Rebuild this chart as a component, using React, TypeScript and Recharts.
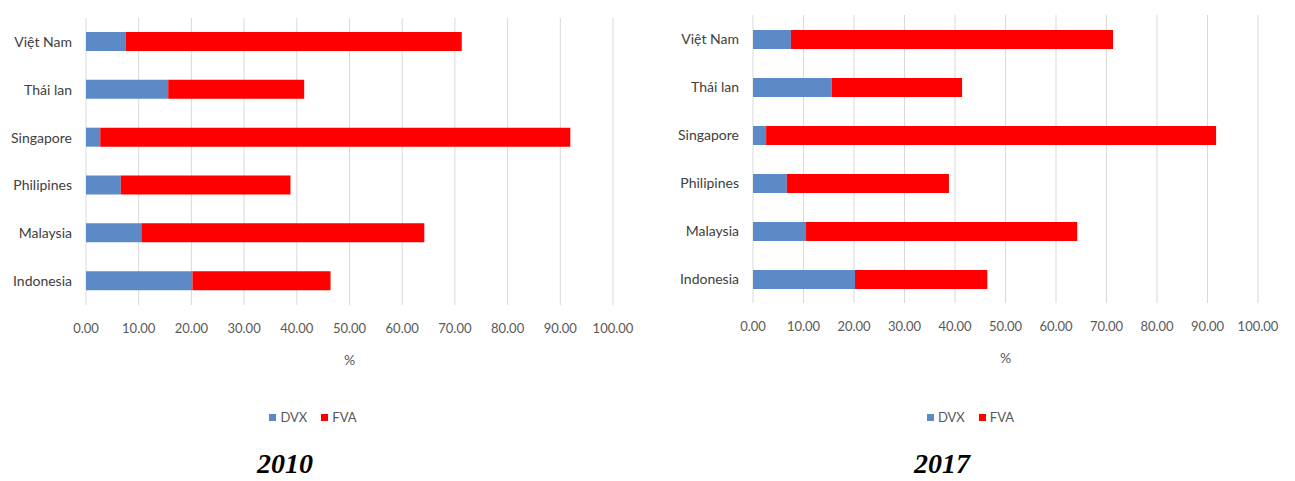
import { Bar, BarChart, CartesianGrid, Legend, XAxis, YAxis } from 'recharts'

const countries = ['Việt Nam', 'Thái lan', 'Singapore', 'Philipines', 'Malaysia', 'Indonesia']

// Domestic value added (DVX) and foreign value added (FVA), % of gross exports
const dvx2010 = [7.5, 15.6, 2.7, 6.6, 10.5, 20.2]
const fva2010 = [63.8, 25.8, 89.2, 32.2, 53.7, 26.2]
const dvx2017 = [7.5, 15.6, 2.6, 6.7, 10.5, 20.2]
const fva2017 = [63.8, 25.8, 89.1, 32.1, 53.7, 26.2]

const xTicks = [0, 10, 20, 30, 40, 50, 60, 70, 80, 90, 100]

const BLUE = '#5b8ac6'
const RED = '#ff0000'
const FONT = 'Lato, "Open Sans", Arial, sans-serif'

function buildRows(dvx: number[], fva: number[]) {
  return countries.map((country, i) => ({ country, DVX: dvx[i], FVA: fva[i] }))
}

function LegendContent({ payload }: any) {
  return (
    <div
      style={{
        display: 'flex',
        justifyContent: 'center',
        gap: 14,
        fontFamily: FONT,
        fontSize: 13,
        color: '#595959',
        paddingRight: 14,
      }}
    >
      {(payload ?? []).map((p: any) => (
        <span key={p.value} style={{ display: 'flex', alignItems: 'center', gap: 4 }}>
          <span style={{ width: 7, height: 7, background: p.color, display: 'inline-block' }} />
          {p.value}
        </span>
      ))}
    </div>
  )
}

interface PanelProps {
  rows: { country: string; DVX: number; FVA: number }[]
  left: number
  width: number
  axisWidth: number
  marginRight: number
  top: number
  bottom: number
}

function Panel({ rows, left, width, axisWidth, marginRight, top, bottom }: PanelProps) {
  return (
    <div style={{ position: 'absolute', left, top: 0 }}>
      <BarChart
        width={width}
        height={440}
        data={rows}
        layout="vertical"
        barSize={19}
        margin={{ top, right: marginRight, left: 0, bottom }}
      >
        <CartesianGrid horizontal={false} stroke="#d9d9d9" />
        <XAxis
          type="number"
          domain={[0, 100]}
          ticks={xTicks}
          interval={0}
          height={30}
          axisLine={false}
          tickLine={false}
          tickSize={0}
          tickMargin={19}
          tick={{ fontFamily: FONT, fontSize: 13, fill: '#595959' }}
          tickFormatter={(v: number) => v.toFixed(2)}
          label={{
            value: '%',
            position: 'bottom',
            offset: 20,
            style: { fontFamily: FONT, fontSize: 14, fill: '#595959' },
          }}
        />
        <YAxis
          type="category"
          dataKey="country"
          width={axisWidth}
          axisLine={false}
          tickLine={false}
          tickSize={0}
          tickMargin={14}
          tick={{ fontFamily: FONT, fontSize: 14, fill: '#404040' }}
        />
        <Legend
          layout="horizontal"
          verticalAlign="middle"
          align="center"
          content={<LegendContent />}
          wrapperStyle={{ top: 409, left: 0, width }}
        />
        <Bar dataKey="DVX" stackId="s" fill={BLUE} isAnimationActive={false} />
        <Bar dataKey="FVA" stackId="s" fill={RED} isAnimationActive={false} />
      </BarChart>
    </div>
  )
}

const titleStyle = {
  position: 'absolute' as const,
  top: 448,
  fontFamily: '"Liberation Serif", "Times New Roman", serif',
  fontWeight: 'bold' as const,
  fontStyle: 'italic' as const,
  fontSize: 28,
  color: '#000',
  width: 120,
  textAlign: 'center' as const,
}

export default function App() {
  return (
    <div style={{ position: 'absolute', left: 0, top: 0, width: 1295, height: 481, background: '#fff' }}>
      <Panel
        rows={buildRows(dvx2010, fva2010)}
        left={0}
        width={640}
        axisWidth={86}
        marginRight={27}
        top={18}
        bottom={105}
      />
      <Panel
        rows={buildRows(dvx2017, fva2017)}
        left={660}
        width={635}
        axisWidth={93}
        marginRight={37}
        top={15}
        bottom={107}
      />
      <div style={{ ...titleStyle, left: 285 - 60 }}>2010</div>
      <div style={{ ...titleStyle, left: 942 - 60 }}>2017</div>
    </div>
  )
}
